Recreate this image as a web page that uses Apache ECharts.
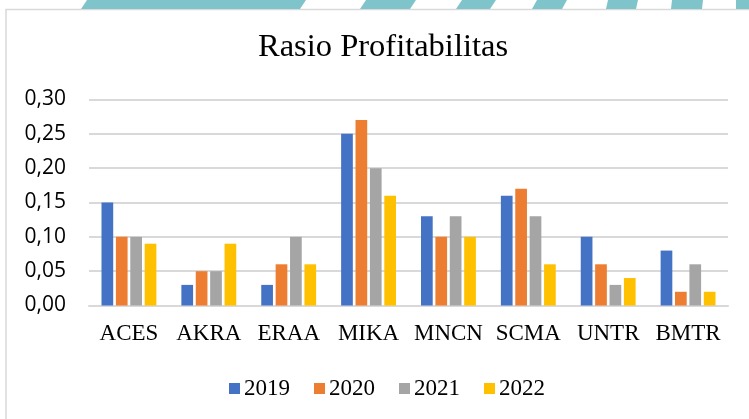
<!DOCTYPE html>
<html>
<head>
<meta charset="utf-8">
<script src="https://cdn.jsdelivr.net/npm/echarts@6/dist/echarts.min.js"></script>
<style>
  html, body { margin: 0; padding: 0; background: #fff; }
  #chart { width: 749px; height: 419px; }
</style>
</head>
<body>
<div id="chart"></div>
<script>
// data
const emiten = ['ACES', 'AKRA', 'ERAA', 'MIKA', 'MNCN', 'SCMA', 'UNTR', 'BMTR']
const tahun = ['2019', '2020', '2021', '2022']
const nilai2019 = [0.15, 0.03, 0.03, 0.25, 0.13, 0.16, 0.10, 0.08]
const nilai2020 = [0.10, 0.05, 0.06, 0.27, 0.10, 0.17, 0.06, 0.02]
const nilai2021 = [0.10, 0.05, 0.10, 0.20, 0.13, 0.13, 0.03, 0.06]
const nilai2022 = [0.09, 0.09, 0.06, 0.16, 0.10, 0.06, 0.04, 0.02]
const warna = ['#4472C4', '#ED7D31', '#A5A5A5', '#FFC000']

const semuaNilai = [nilai2019, nilai2020, nilai2021, nilai2022]

// hiasan latar (garis biru muda di atas)
const teal = '#7fc4cb'
function jajarGenjang(x0, x1, miring) {
    return {
        type: 'polygon',
        silent: true,
        shape: { points: [[x0 + miring, 0], [x1 + miring, 0], [x1, 9], [x0, 9]] },
        style: { fill: teal }
    }
}

var chart = echarts.init(document.getElementById('chart'))
option = {
    backgroundColor: '#fff',
    animation: false,
    title: {
        text: 'Rasio Profitabilitas',
        left: 253,
        top: 26,
        textStyle: {
            fontFamily: 'Liberation Serif',
            fontSize: 32.5,
            fontWeight: 'normal',
            color: '#000'
        }
    },
    graphic: [
        {
            type: 'rect',
            silent: true,
            shape: { x: 6, y: 9.5, width: 800, height: 440 },
            style: { fill: 'none', stroke: '#d9d9d9', lineWidth: 1.5 }
        },
        jajarGenjang(81, 300, 6),
        jajarGenjang(360, 410, 6),
        jajarGenjang(456, 490, 6),
        jajarGenjang(532, 562, 5),
        jajarGenjang(606, 636, 2),
        jajarGenjang(671, 702, 1),
        jajarGenjang(736, 760, 0)
    ],
    legend: {
        data: tahun,
        left: 224,
        top: 372,
        itemWidth: 11,
        itemHeight: 11,
        itemGap: 24,
        icon: 'rect',
        textStyle: {
            fontFamily: 'Liberation Serif',
            fontSize: 23,
            color: '#000',
            padding: [0, 0, 0, -1]
        }
    },
    grid: {
        left: 89,
        right: 21,
        top: 99.5,
        bottom: 113.5
    },
    xAxis: {
        type: 'category',
        data: emiten,
        axisLine: { lineStyle: { color: '#d9d9d9', width: 2 } },
        axisTick: { show: false },
        axisLabel: {
            interval: 0,
            hideOverlap: false,
            margin: 17,
            fontFamily: 'Liberation Serif',
            fontSize: 23,
            color: '#000'
        }
    },
    yAxis: {
        type: 'value',
        min: 0,
        max: 0.3,
        interval: 0.05,
        axisLine: { show: false },
        axisTick: { show: false },
        splitLine: { lineStyle: { color: '#d9d9d9', width: 2 } },
        axisLabel: {
            margin: 23,
            fontFamily: 'Open Sans',
            fontSize: 21,
            color: '#000',
            formatter: (v) => v.toFixed(2).replace('.', ',')
        }
    },
    series: tahun.map((t, i) => ({
        name: t,
        type: 'bar',
        barWidth: 11.7,
        barGap: '23%',
        itemStyle: { color: warna[i] },
        data: semuaNilai[i]
    }))
}
chart.setOption(option)
</script>
</body>
</html>
